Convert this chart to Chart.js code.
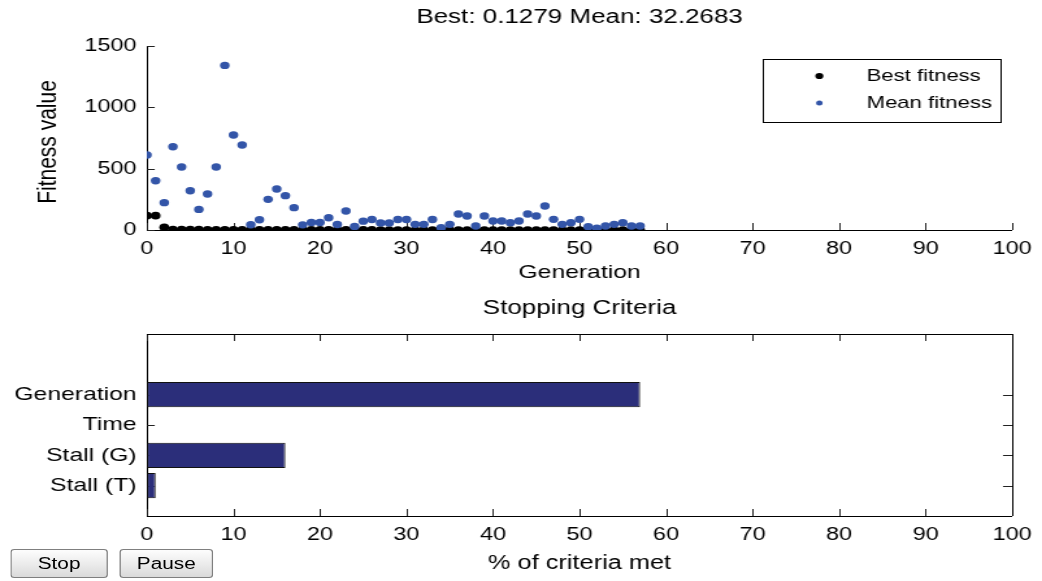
<!DOCTYPE html>
<html>
<head>
<meta charset="utf-8">
<script src="https://cdn.jsdelivr.net/npm/chart.js@4"></script>
<style>
  body { margin: 0; background: #fff; overflow: hidden; }
  /* the original figure is stretched sideways, so draw narrow and widen */
  #stage { position: absolute; left: 0; top: 0; width: 802px; height: 581px;
           transform: scaleX(1.2993); transform-origin: 0 0; }
  #fitness { position: absolute; left: 0; top: 0; }
  #criteria { position: absolute; left: 0; top: 290px; }
  .btn { position: absolute; top: 549px; height: 29px; padding: 0;
         font: 16px 'Liberation Sans', Arial, sans-serif; color: #000;
         border: 1px solid #7f7f7f; border-radius: 3px;
         background: linear-gradient(#fdfdfd, #ececec 50%, #dadada); }
</style>
</head>
<body>
<div id="stage">
  <canvas id="fitness" width="802" height="290"></canvas>
  <canvas id="criteria" width="802" height="291"></canvas>
  <button class="btn" style="left:8px;width:75px">Stop</button>
  <button class="btn" style="left:92px;width:72px">Pause</button>
</div>
<script>
const FONT = "'Liberation Sans', Arial, sans-serif";

// generations 0..57
const generations = [0,1,2,3,4,5,6,7,8,9,10,11,12,13,14,15,16,17,18,19,20,21,22,23,24,25,26,27,28,29,
  30,31,32,33,34,35,36,37,38,39,40,41,42,43,44,45,46,47,48,49,50,51,52,53,54,55,56,57];

const bestFitness = [117,117,22,4.1,3.6,3.2,2.9,2.6,2.4,2.2,
  2.0,1.8,1.6,1.5,1.4,1.3,1.2,1.1,1.0,0.95,
  0.9,0.85,0.8,0.76,0.72,0.68,0.64,0.6,0.57,0.54,
  0.51,0.48,0.46,0.44,0.42,0.4,0.38,0.36,0.34,0.32,
  0.3,0.29,0.28,0.26,0.25,0.24,0.22,0.21,0.2,0.19,
  0.18,0.17,0.16,0.15,0.14,0.135,0.13,0.1279];

const meanFitness = [611,402,223,679,513,320,168,293,513,1342,
  774,693,43,84,250,334,280,182,42,61,
  61,100,45,155,28,72,86,58,58,86,
  86,46,46,86,19,46,130,114,33,114,
  73,73,60,73,130,114,196,87,46,60,
  87,27,14,33,46,60,33,32.2683];

const xTicks = [0,10,20,30,40,50,60,70,80,90,100];
const fitnessTicks = [0,500,1000,1500];

const criteria = ['Generation', 'Time', 'Stall (G)', 'Stall (T)'];
const criteriaMet = [57, 0, 16, 1];

// MATLAB-like axes: inward tick marks, optional full box, rotated y label, boxed legend
const matlabAxes = {
  id: 'matlabAxes',
  beforeDatasetsDraw(chart, args, opts) {
    const { ctx, chartArea: a, scales } = chart;
    ctx.save();
    ctx.strokeStyle = '#222';
    ctx.lineWidth = 1;
    ctx.beginPath();
    scales.x.ticks.forEach(t => {
      const px = Math.round(scales.x.getPixelForValue(t.value)) + 0.5;
      ctx.moveTo(px, a.bottom); ctx.lineTo(px, a.bottom - 7);
      if (opts.box) { ctx.moveTo(px, a.top); ctx.lineTo(px, a.top + 7); }
    });
    scales.y.ticks.forEach(t => {
      const py = Math.round(scales.y.getPixelForValue(t.value)) + 0.5;
      ctx.moveTo(a.left, py); ctx.lineTo(a.left + 6, py);
      if (opts.box) { ctx.moveTo(a.right, py); ctx.lineTo(a.right - 7, py); }
    });
    ctx.stroke();
    if (opts.box) {
      ctx.strokeStyle = '#000';
      ctx.beginPath();
      ctx.moveTo(Math.round(a.left), Math.round(a.top) + 0.5);
      ctx.lineTo(Math.round(a.right) + 0.5, Math.round(a.top) + 0.5);
      ctx.lineTo(Math.round(a.right) + 0.5, Math.round(a.bottom));
      ctx.stroke();
    }
    if (opts.yTitle) {
      ctx.fillStyle = '#000';
      ctx.font = opts.yTitle.size + 'px ' + FONT;
      ctx.textAlign = 'center';
      ctx.textBaseline = 'middle';
      ctx.translate(opts.yTitle.x, (a.top + a.bottom) / 2 + opts.yTitle.dy);
      ctx.rotate(-Math.PI / 2);
      ctx.fillText(opts.yTitle.text, 0, 0);
    }
    ctx.restore();
  },
  afterDraw(chart, args, opts) {
    if (!opts.legend) return;
    const { ctx } = chart;
    const L = opts.legend;
    ctx.save();
    ctx.fillStyle = '#fff';
    ctx.fillRect(L.x, L.y, L.w, L.h);
    ctx.strokeStyle = '#000';
    ctx.lineWidth = 1;
    ctx.strokeRect(Math.round(L.x) + 0.5, Math.round(L.y) + 0.5, L.w, L.h);
    ctx.font = '17px ' + FONT;
    ctx.textBaseline = 'middle';
    chart.data.datasets.forEach((ds, i) => {
      const y = L.rowY[i];
      ctx.fillStyle = ds.backgroundColor;
      ctx.beginPath();
      ctx.arc(L.dotX, y, L.dotR[i], 0, Math.PI * 2);
      ctx.fill();
      ctx.fillStyle = '#000';
      ctx.fillText(ds.label, L.textX, y);
    });
    ctx.restore();
  }
};

const tickFont = { family: FONT, size: 18 };
const labelFont = { family: FONT, size: 19 };

// a bare top axis that only carries the title, so it centres over the plot box
function titleAxis(text, padTop, height) {
  return {
    type: 'linear', axis: 'x', position: 'top', min: 0, max: 1,
    ticks: { display: false },
    grid: { display: false, drawTicks: false },
    border: { display: false },
    title: { display: true, text: text, color: '#000',
             font: { family: FONT, size: 20 }, padding: { top: padTop, bottom: 0 } },
    afterFit: s => { s.height = height; }
  };
}

const fitnessChart = new Chart(document.getElementById('fitness'), {
  type: 'scatter',
  data: {
    datasets: [
      {
        label: 'Best fitness',
        data: generations.map((g, i) => ({ x: g, y: bestFitness[i] })),
        xAxisID: 'x', yAxisID: 'y',
        backgroundColor: '#000',
        borderWidth: 0,
        pointRadius: 3.8,
        order: 1
      },
      {
        label: 'Mean fitness',
        data: generations.map((g, i) => ({ x: g, y: meanFitness[i] })),
        xAxisID: 'x', yAxisID: 'y',
        backgroundColor: '#3355a8',
        borderWidth: 0,
        pointRadius: 3.7,
        order: 0
      }
    ]
  },
  options: {
    responsive: false,
    animation: false,
    layout: { padding: { left: 0, right: 20.8, top: 0, bottom: 0 } },
    plugins: {
      legend: { display: false },
      tooltip: { enabled: false },
      title: { display: false },
      matlabAxes: {
        box: false,
        yTitle: { text: 'Fitness value', x: 37, dy: 4, size: 21 },
        legend: { x: 587, y: 59, w: 183, h: 63, dotX: 630.6, dotR: [3.1, 2.5], textX: 667, rowY: [76, 103] }
      }
    },
    scales: {
      x: {
        type: 'linear', min: 0, max: 100,
        afterBuildTicks: s => { s.ticks = xTicks.map(v => ({ value: v })); },
        ticks: { color: '#000', font: tickFont, padding: 8, maxRotation: 0, autoSkip: false },
        grid: { display: false, drawTicks: false },
        border: { color: '#000', width: 1 },
        title: { display: true, text: 'Generation', color: '#000', font: labelFont, padding: { top: 0, bottom: 6 } },
        afterFit: s => { s.height = 60; }
      },
      y: {
        type: 'linear', min: 0, max: 1500,
        afterBuildTicks: s => { s.ticks = fitnessTicks.map(v => ({ value: v })); },
        ticks: { color: '#000', font: tickFont, padding: 8, callback: v => String(v) },
        grid: { display: false, drawTicks: false },
        border: { color: '#000', width: 1 },
        afterFit: s => { s.width = 113.1; }
      },
      top: titleAxis('Best: ' + bestFitness[bestFitness.length - 1].toFixed(4) +
                     ' Mean: ' + meanFitness[meanFitness.length - 1].toFixed(4), 5, 46)
    }
  },
  plugins: [matlabAxes]
});

const criteriaChart = new Chart(document.getElementById('criteria'), {
  type: 'bar',
  data: {
    datasets: [{
      label: '% of criteria met',
      data: criteria.map((c, i) => ({ x: criteriaMet[i], y: i })),
      xAxisID: 'x', yAxisID: 'y',
      backgroundColor: '#2b2e7a',
      borderColor: '#111',
      borderWidth: 1,
      borderSkipped: false,
      barPercentage: 1,
      categoryPercentage: 0.83
    }]
  },
  options: {
    indexAxis: 'y',
    responsive: false,
    animation: false,
    layout: { padding: { left: 0, right: 20.8, top: 0, bottom: 0 } },
    plugins: {
      legend: { display: false },
      tooltip: { enabled: false },
      title: { display: false },
      matlabAxes: { box: true }
    },
    scales: {
      x: {
        type: 'linear', min: 0, max: 100,
        afterBuildTicks: s => { s.ticks = xTicks.map(v => ({ value: v })); },
        ticks: { color: '#000', font: tickFont, padding: 8, maxRotation: 0, autoSkip: false },
        grid: { display: false, drawTicks: false },
        border: { color: '#000', width: 1 },
        title: { display: true, text: '% of criteria met', color: '#000', font: { family: FONT, size: 19.5 }, padding: { top: 0, bottom: 6 } },
        afterFit: s => { s.height = 65; }
      },
      y: {
        type: 'linear', min: -2, max: 4, reverse: true, offset: false,
        afterBuildTicks: s => { s.ticks = criteria.map((c, i) => ({ value: i })); },
        ticks: { color: '#000', font: { family: FONT, size: 19 }, padding: 8, autoSkip: false,
                 callback: v => criteria[v] },
        grid: { display: false, drawTicks: false, offset: false },
        border: { color: '#000', width: 1 },
        afterFit: s => { s.width = 113.1; }
      },
      top: titleAxis('Stopping Criteria', 6, 44)
    }
  },
  plugins: [matlabAxes]
});
</script>
</body>
</html>
